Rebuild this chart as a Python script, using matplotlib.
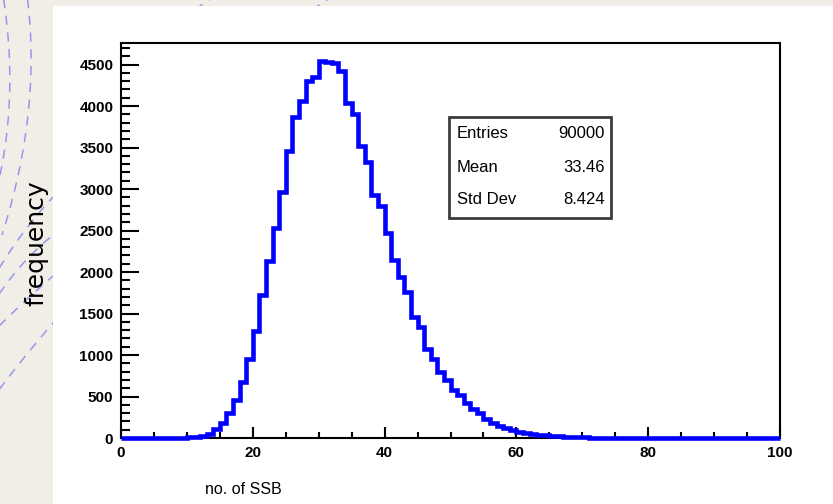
import matplotlib
matplotlib.use("Agg")
import matplotlib.pyplot as plt
import numpy as np
from matplotlib.patches import Rectangle
from matplotlib.ticker import MultipleLocator

# ---- data: histogram of number of SSB, 100 unit-width bins from 0 to 100 ----
bin_edges = list(range(0, 101))
counts = [
    0, 0, 0, 0, 0, 1, 1, 2, 3, 5,               # 0-9
    8, 14, 24, 50, 110, 184, 302, 460, 680, 950,  # 10-19
    1290, 1720, 2136, 2536, 2970, 3460, 3864, 4056, 4300, 4350,  # 20-29
    4544, 4530, 4520, 4420, 4036, 3904, 3516, 3330, 2925, 2796,  # 30-39
    2476, 2144, 1944, 1756, 1464, 1336, 1076, 956, 796, 696,     # 40-49
    576, 516, 416, 344, 296, 224, 184, 144, 116, 96,             # 50-59
    76, 64, 52, 40, 31, 24, 19, 15, 12, 9,                       # 60-69
    7, 6, 5, 4, 3, 3, 2, 2, 2, 1,                                # 70-79
    1, 1, 1, 0, 1, 0, 0, 1, 0, 0,                                # 80-89
    0, 1, 0, 0, 0, 0, 0, 0, 0, 0,                                # 90-99
]
x_ticks = [0, 20, 40, 60, 80, 100]
y_ticks = [0, 500, 1000, 1500, 2000, 2500, 3000, 3500, 4000, 4500]
stat_names = ["Entries", "Mean", "Std Dev"]
stat_values = ["90000", "33.46", "8.424"]
x_title = "no. of SSB"
y_title = "frequency"

W, H = 833, 504
fig = plt.figure(figsize=(W / 100, H / 100), dpi=100)
fig.patch.set_facecolor("#f1eee8")

# background layer in pixel coordinates (y down)
bg = fig.add_axes([0, 0, 1, 1])
bg.set_xlim(0, W)
bg.set_ylim(H, 0)
bg.axis("off")


def bezier(p0, p1, p2, n=60):
    t = np.linspace(0, 1, n)[:, None]
    p0, p1, p2 = map(np.asarray, (p0, p1, p2))
    pts = (1 - t) ** 2 * p0 + 2 * (1 - t) * t * p1 + t ** 2 * p2
    return pts[:, 0], pts[:, 1]


deco = [
    ((3, -5), (18, 90), (0, 175)),
    ((27, -5), (42, 110), (2, 235)),
    ((-5, 275), (25, 225), (60, 190)),
    ((-5, 300), (25, 255), (60, 230)),
    ((-5, 330), (25, 300), (60, 270)),
    ((-5, 395), (25, 355), (60, 315)),
    ((195, 10), (202, 4), (212, -2)),
    ((312, 10), (320, 4), (330, -2)),
]
for p0, p1, p2 in deco:
    xs, ys = bezier(p0, p1, p2)
    bg.plot(xs, ys, color="#9696ee", lw=1.1, ls=(0, (6, 5)), zorder=1)

bg.add_patch(Rectangle((53, 6), W - 53, H - 6, facecolor="white",
                       edgecolor="none", zorder=2))

# main histogram frame
left, right, top, bottom = 121, 780, 43, 438
ax = fig.add_axes([left / W, 1 - bottom / H, (right - left) / W, (bottom - top) / H])
ax.set_facecolor("none")
ax.stairs(counts, bin_edges, color="#0000ff", lw=3.3, baseline=None,
          clip_on=False, zorder=3)
ax.set_xlim(0, 100)
ax.set_ylim(0, 4760)

ax.set_xticks(x_ticks)
ax.set_yticks(y_ticks)
ax.xaxis.set_minor_locator(MultipleLocator(5))
ax.yaxis.set_minor_locator(MultipleLocator(100))
ax.tick_params(axis="both", which="both", direction="in", width=1.5,
               colors="black")
ax.tick_params(axis="x", which="major", length=8, pad=5.5)
ax.tick_params(axis="x", which="minor", length=4)
ax.tick_params(axis="y", which="major", length=13, pad=5.5)
ax.tick_params(axis="y", which="minor", length=6.5)
for lab in ax.get_xticklabels() + ax.get_yticklabels():
    lab.set_fontfamily("Liberation Sans")
    lab.set_fontweight("bold")
    lab.set_fontsize(11)
for s in ax.spines.values():
    s.set_linewidth(1.5)
    s.set_color("black")

# overlay for the statistics box and titles
ov = fig.add_axes([0, 0, 1, 1])
ov.set_xlim(0, W)
ov.set_ylim(H, 0)
ov.axis("off")
ov.patch.set_alpha(0)
ov.add_patch(Rectangle((449, 117), 162, 101, facecolor="white",
                       edgecolor="#3c3c3c", lw=2.0, zorder=4))
for name, val, yy in zip(stat_names, stat_values, [133, 168, 200]):
    ov.text(457, yy, name, ha="left", va="center", fontsize=12,
            family="Liberation Sans", zorder=5)
    ov.text(605, yy, val, ha="right", va="center", fontsize=12,
            family="Liberation Sans", zorder=5)

ov.text(205, 489, x_title, ha="left", va="center", fontsize=11.5,
        family="Liberation Sans")
ov.text(36, 243, y_title, ha="center", va="center", rotation=90,
        fontsize=18, family="DejaVu Sans")

fig.savefig("out.png", dpi=100, facecolor=fig.get_facecolor())
